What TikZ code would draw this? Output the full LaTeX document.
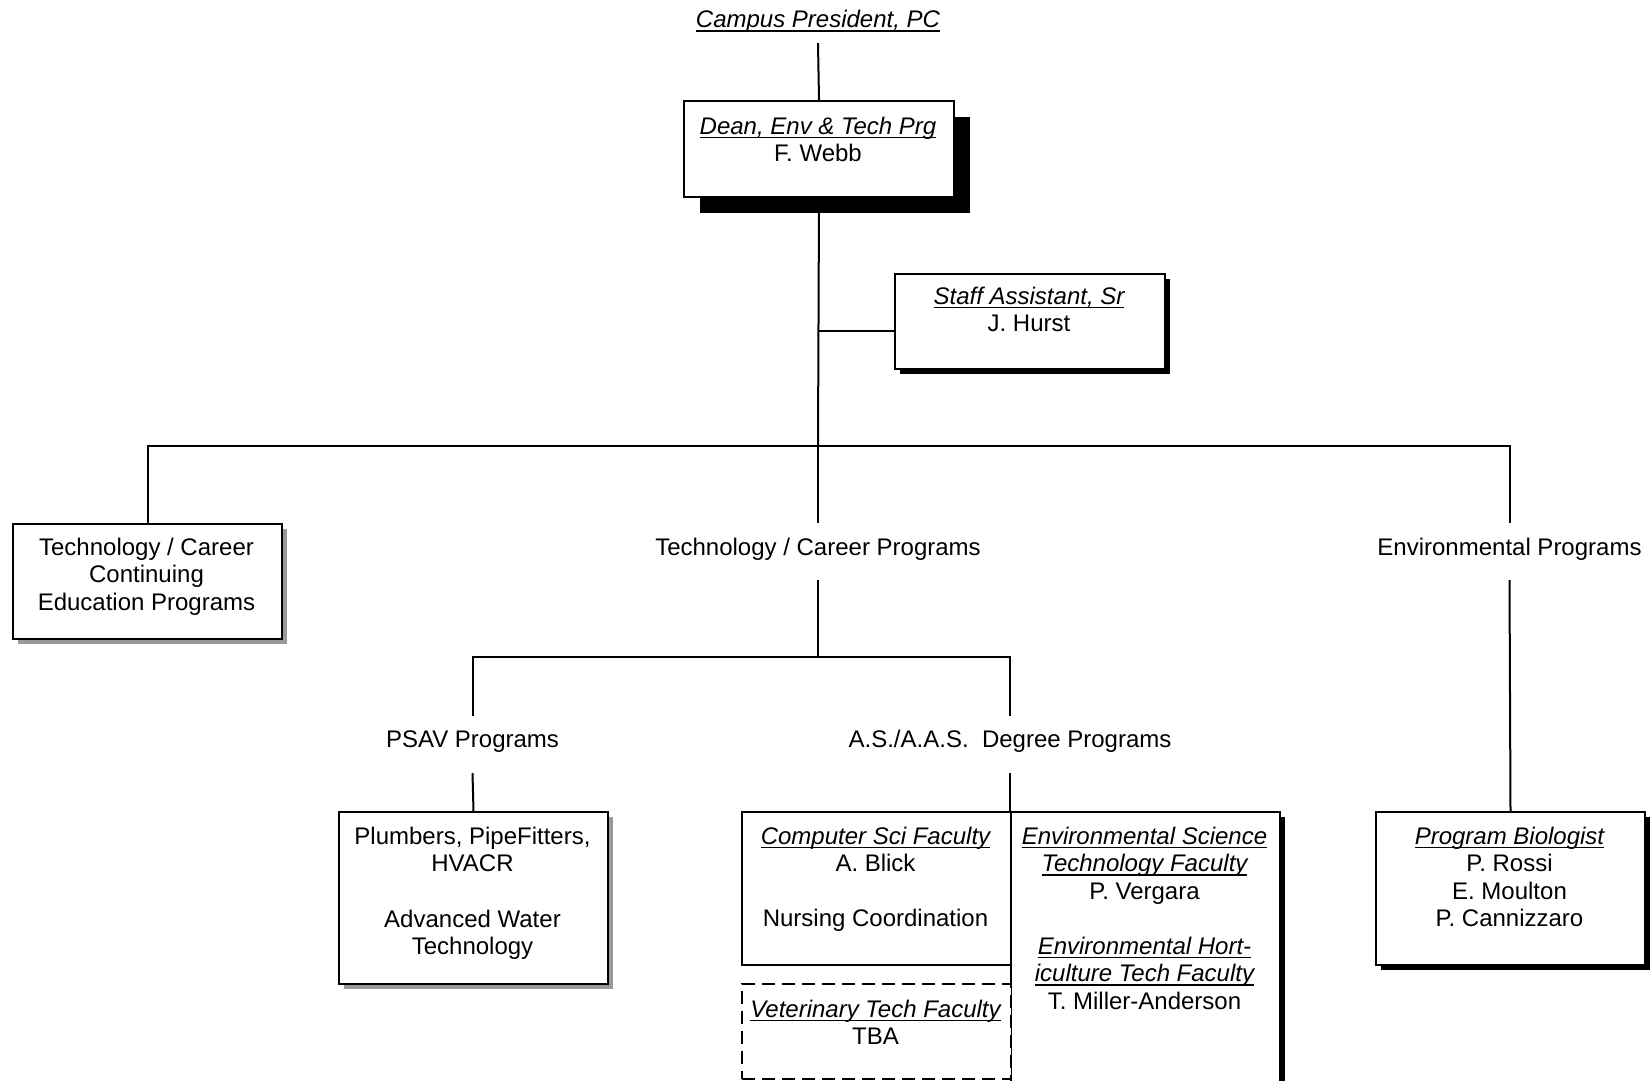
\documentclass[tikz,border=0pt]{standalone}
\usepackage{fontspec}
\setmainfont{Liberation Sans}
\usetikzlibrary{shadows}
\newcommand\ulit[1]{\setbox0=\hbox{\itshape #1}\leavevmode\rlap{\rule[-4.2pt]{\wd0}{1.8pt}}\box0}
\newcommand\fl{\rule{0pt}{20pt}}
\begin{document}
\begin{tikzpicture}[x=1pt,y=-1pt,
  ln/.style={line width=2pt},
  box/.style={draw, line width=2pt, fill=white, inner sep=0pt, anchor=north west},
  bshadow/.style={drop shadow={shadow xshift=#1, shadow yshift=-#1, fill=black, opacity=1}},
  gshadow/.style={drop shadow={shadow xshift=5pt, shadow yshift=-5pt, fill=black!40, opacity=1}},
  txt/.style={font=\fontsize{24}{27.5}\selectfont, align=center, inner sep=0pt, anchor=north},
  lbl/.style={font=\fontsize{24}{27.5}\selectfont, inner sep=0pt, anchor=base},
]
\useasboundingbox (0,0) rectangle (1652,1081);

% boxes
\node[box, bshadow=16pt, minimum width=270pt, minimum height=96pt] (dean) at (683,100) {};
\node[box, bshadow=5pt, minimum width=270pt, minimum height=95pt] (staff) at (894,273) {};
\node[box, gshadow, minimum width=269pt, minimum height=115pt] (ce) at (12,523) {};
\node[box, gshadow, minimum width=269pt, minimum height=172pt] (psavbox) at (338,811) {};
\node[box, bshadow=5pt, minimum width=269pt, minimum height=270pt] (envbox) at (1010,811) {};
\node[box, minimum width=269pt, minimum height=153pt] (comp) at (741,811) {};
\node[box, dash pattern=on 13pt off 7pt, minimum width=269pt, minimum height=95pt] (vet) at (741,983) {};
\node[box, bshadow=5pt, minimum width=269pt, minimum height=153pt] (bio) at (1375,811) {};

% box texts
\node[txt] (deanT) at (818,114) {\fl\ulit{Dean, Env \& Tech Prg}\\F. Webb};
\node[txt] (staffT) at (1029,284) {\fl\ulit{Staff Assistant, Sr}\\J. Hurst};
\node[txt] (ceT) at (146.5,535) {\fl Technology / Career\\Continuing\\Education Programs};
\node[txt] (psavT) at (472.5,824) {\fl Plumbers, PipeFitters,\\HVACR\\[28pt]Advanced Water\\Technology};
\node[txt] (compT) at (875.5,824) {\fl\ulit{Computer Sci Faculty}\\A. Blick\\[27.5pt]Nursing Coordination};
\node[txt] (envT) at (1144.5,824) {\fl\ulit{Environmental Science}\\\ulit{Technology Faculty}\\P. Vergara\\[27.5pt]\ulit{Environmental Hort-}\\\ulit{iculture Tech Faculty}\\T. Miller-Anderson};
\node[txt] (vetT) at (875.5,997) {\fl\ulit{Veterinary Tech Faculty}\\TBA};
\node[txt] (bioT) at (1509.5,824) {\fl\ulit{Program Biologist}\\P. Rossi\\E. Moulton\\P. Cannizzaro};

% free labels
\node[lbl, text depth=15pt] (pc) at (818,28) {\ulit{Campus President, PC}};
\node[lbl, text height=32pt, text depth=25pt] (tcp) at (818,555) {Technology / Career Programs};
\node[lbl, text height=32pt, text depth=25pt] (envp) at (1509.5,555) {Environmental Programs};
\node[lbl, text height=31pt, text depth=26pt] (psav) at (472.5,747) {PSAV Programs};
\node[lbl, text height=31pt, text depth=26pt] (deg) at (1010,747) {A.S./A.A.S.\ \ Degree Programs};

% junctions
\coordinate (j1) at (818,446);
\coordinate (sj) at (818,331);
\coordinate (j2) at (818,657);

% connectors
\draw[ln] (pc.south) -- (dean.north);
\draw[ln] (dean.south) -- (j1);
\draw[ln] (sj) -- (sj -| staff.west);
\draw[ln] (ce.north) |- (j1) -| (envp.north);
\draw[ln] (j1) -- (tcp.north);
\draw[ln] (tcp.south) -- (j2);
\draw[ln] (psav.north) |- (j2) -| (deg.north);
\draw[ln] (psav.south) -- (psavbox.north);
\draw[ln] (deg.south) -- (deg.south |- comp.north);
\draw[ln] (envp.south) -- (bio.north);
\end{tikzpicture}
\end{document}
